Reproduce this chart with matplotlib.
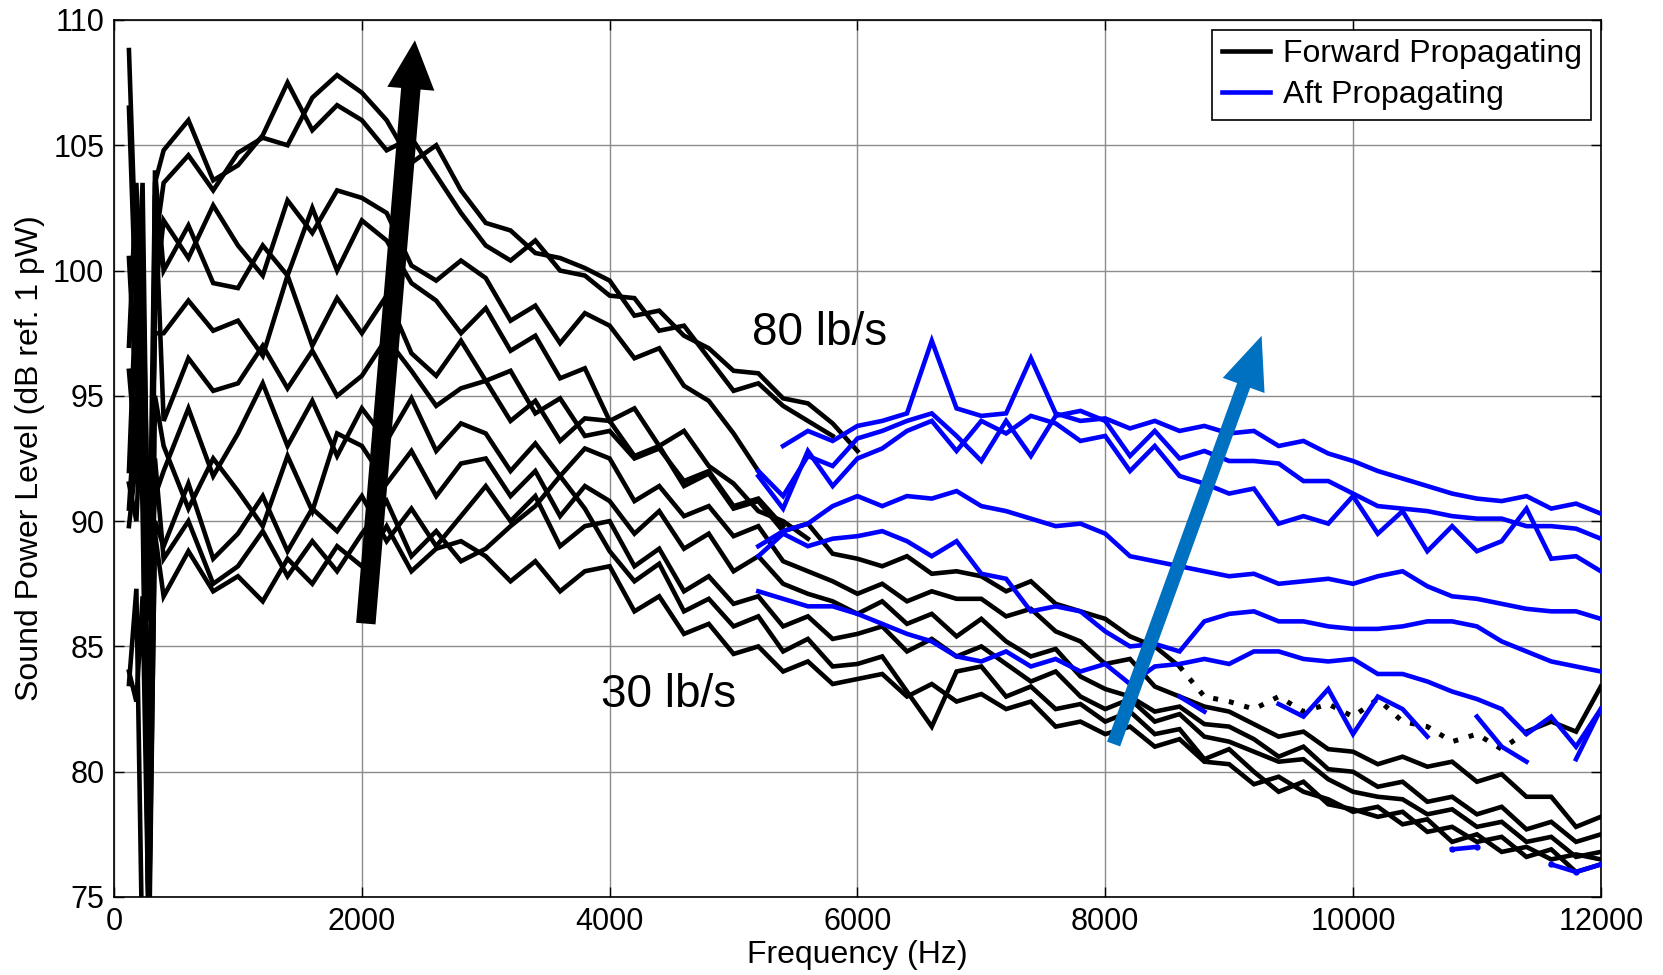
import matplotlib
matplotlib.use("Agg")
import matplotlib.pyplot as plt
from matplotlib.patches import FancyArrowPatch
import numpy as np

plt.rcParams['font.family'] = ['Liberation Sans', 'DejaVu Sans']

nan = np.nan

### DATA ###
# forward (black) curves share this grid, aft (blue) curves the second one
freq_fwd = np.array([120, 180, 230, 280, 330] + list(range(400, 12001, 200)))
freq_aft = np.arange(5200, 12001, 200)
freq_dot = np.arange(8600, 11401, 200)

fwd_80 = [108.8, 100.0, 92.0, 73.0, 101.0,
          103.5, 104.6, 103.2, 104.7, 105.3, 105.0, 106.9, 107.8, 107.1, 106.0,
          104.3, 105.0, 103.2, 101.9, 101.6, 100.7, 100.5, 100.1, 99.6, 98.2,
          98.4, 97.4, 96.9, 96.0, 95.9, 94.9, 94.7, 93.9, 92.8]
fwd_75 = [106.5, 98.0, 103.5, 86.0, 103.5,
          104.8, 106.0, 103.6, 104.2, 105.4, 107.5, 105.6, 106.6, 106.0, 104.8,
          105.3, 103.8, 102.3, 101.0, 100.4, 101.2, 100.0, 99.8, 99.0, 98.9,
          97.6, 97.8, 96.5, 95.2, 95.5, 94.6, 94.0, 93.4]
fwd_70 = [100.5, 95.0, 101.5, 77.0, 99.0,
          102.0, 100.5, 102.6, 101.0, 99.8, 102.8, 101.5, 103.2, 102.9, 102.3,
          100.2, 99.6, 100.4, 99.7, 98.0, 98.6, 97.1, 98.3, 97.8, 96.5,
          96.9, 95.4, 94.8, 93.5, 92.0]
fwd_65 = [97.0, 103.5, 96.0, 73.0, 104.0,
          100.0, 101.8, 99.5, 99.3, 101.0, 99.8, 102.5, 100.0, 102.0, 101.2,
          99.5, 98.8, 97.5, 98.5, 96.8, 97.4, 95.7, 96.1, 94.0, 94.5,
          93.0, 93.6, 92.2, 91.5, 90.4, 90.0, 89.3]
fwd_60 = [96.0, 92.5, 100.5, 88.0, 97.5,
          97.5, 98.8, 97.6, 98.0, 96.6, 99.8, 97.0, 98.9, 97.5, 99.0,
          96.7, 95.8, 97.2, 95.6, 96.0, 94.3, 94.9, 93.4, 93.6, 92.5,
          92.9, 91.6, 92.0, 90.6, 90.9, 89.8]
fwd_55 = [92.0, 99.5, 90.5, 74.0, 103.0,
          94.0, 96.5, 95.2, 95.5, 97.0, 95.3, 96.8, 95.0, 95.8, 97.3,
          96.0, 94.6, 95.3, 95.6, 94.0, 94.8, 93.2, 94.1, 94.0, 92.6,
          93.0, 91.4, 91.9, 90.5, 90.8, 89.6, 89.9, 88.7, 88.5,
          88.2, 88.6, 87.9, 88.0, 87.8, 87.2, 87.6, 86.7, 86.4, 86.1,
          85.4, 85.0, 84.2, nan, nan, nan, nan, nan, nan, nan,
          nan, nan, nan, nan, nan, nan, 81.6, 82.0, 81.6, 83.4]
fwd_55_dot = [84.2, 83.0, 82.8, 82.5, 83.0, 82.4, 82.7, 82.2, 82.9, 82.0,
              81.8, 81.2, 81.5, 80.9, 81.6]
fwd_50 = [90.5, 95.0, 93.0, 87.5, 91.0,
          92.0, 94.5, 91.8, 93.5, 95.5, 93.0, 94.8, 92.6, 94.5, 93.2,
          94.9, 92.8, 93.9, 93.5, 92.0, 93.1, 91.8, 92.9, 92.5, 90.8,
          91.4, 90.2, 90.6, 89.4, 89.8, 88.4, 88.0, 87.6, 87.1,
          87.5, 86.8, 87.2, 86.9, 86.9, 86.2, 86.5, 85.6, 85.2, 84.3,
          84.5, 83.4, 83.0, 82.6, 82.4, 81.9, 81.4, 81.6, 80.9, 80.8,
          80.3, 80.6, 80.2, 80.4, 79.6, 79.9, 79.0, 79.0, 77.8, 78.2]
fwd_45 = [89.8, 92.5, 97.0, 73.0, 95.0,
          93.0, 90.5, 92.5, 91.2, 89.8, 92.6, 90.4, 93.5, 93.0, 91.5,
          92.8, 91.0, 92.3, 92.5, 91.0, 92.0, 90.2, 91.4, 90.8, 89.5,
          90.4, 88.9, 89.5, 88.0, 88.6, 87.5, 87.1, 86.8, 86.3,
          86.8, 85.9, 86.3, 85.4, 86.1, 85.2, 84.6, 84.9, 83.8, 83.3,
          83.0, 82.4, 82.6, 81.9, 81.8, 81.3, 80.6, 81.0, 80.1, 80.0,
          79.4, 79.6, 78.8, 79.0, 78.3, 78.6, 77.7, 78.0, 77.2, 77.5]
fwd_40 = [83.5, 87.3, 72.0, 72.0, 90.0,
          89.0, 91.5, 88.5, 89.5, 91.0, 88.8, 90.5, 89.6, 91.0, 89.2,
          90.5, 89.0, 90.2, 91.4, 90.0, 91.0, 89.0, 89.8, 90.0, 88.2,
          88.9, 87.2, 87.8, 86.7, 87.0, 85.8, 86.2, 85.3, 85.5,
          85.8, 84.8, 85.3, 84.6, 85.0, 84.3, 83.6, 84.0, 83.0, 82.5,
          82.9, 82.0, 82.3, 81.4, 81.2, 80.8, 80.4, 80.5, 79.7, 79.2,
          79.0, 78.9, 78.3, 78.5, 77.8, 78.0, 77.2, 77.4, 76.6, 76.8]
fwd_35 = [91.5, 90.0, 95.5, 78.0, 92.5,
          88.5, 90.0, 87.5, 88.2, 89.6, 87.8, 89.2, 88.0, 89.5, 90.8,
          88.6, 89.6, 88.4, 88.9, 89.8, 90.6, 91.8, 90.5, 88.8, 87.6,
          88.3, 86.4, 86.9, 85.8, 86.2, 84.8, 85.3, 84.2, 84.3,
          84.6, 83.2, 81.8, 84.0, 84.2, 83.0, 83.4, 82.5, 82.7, 82.0,
          82.4, 81.5, 81.7, 80.5, 80.9, 80.0, 79.2, 79.6, 78.7, 78.5,
          78.2, 78.4, 77.6, 77.8, 77.2, 77.4, 76.6, 76.9, 76.0, 76.3]
fwd_30 = [84.0, 82.8, 87.0, 73.5, 89.5,
          87.0, 88.8, 87.2, 87.8, 86.8, 88.5, 87.5, 89.0, 88.2, 89.8,
          88.0, 88.9, 89.2, 88.6, 87.6, 88.4, 87.2, 88.0, 88.2, 86.4,
          87.0, 85.5, 85.9, 84.7, 85.0, 84.0, 84.4, 83.5, 83.7,
          83.9, 83.0, 83.5, 82.8, 83.1, 82.5, 82.8, 81.8, 82.0, 81.5,
          81.8, 81.0, 81.3, 80.4, 80.3, 79.5, 79.8, 79.2, 78.9, 78.4,
          78.6, 77.9, 78.1, 77.2, 77.5, 76.8, 77.0, 76.5, 76.7, 76.5]

aft_1 = [nan, 93.0, 93.6, 93.2, 93.8, 94.0, 94.3, 97.2, 94.5, 94.2,
         94.3, 96.5, 94.3, 94.0, 94.1, 93.7, 94.0, 93.6, 93.8, 93.5,
         93.6, 93.0, 93.2, 92.7, 92.4, 92.0, 91.7, 91.4, 91.1, 90.9,
         90.8, 91.0, 90.5, 90.7, 90.3]
aft_2 = [92.0, 91.0, 92.6, 92.2, 93.3, 93.6, 94.0, 94.3, 93.4, 92.4,
         94.0, 92.6, 94.2, 94.4, 94.0, 92.6, 93.6, 92.5, 92.8, 92.4,
         92.4, 92.3, 91.6, 91.6, 91.1, 90.6, 90.5, 90.4, 90.2, 90.1,
         90.1, 89.8, 89.8, 89.7, 89.3]
aft_3 = [91.8, 90.5, 92.8, 91.4, 92.5, 92.9, 93.6, 94.0, 92.8, 94.0,
         93.5, 94.2, 93.9, 93.2, 93.4, 92.0, 93.0, 91.8, 91.5, 91.1,
         91.3, 89.9, 90.2, 89.9, 91.0, 89.5, 90.4, 88.8, 89.8, 88.8,
         89.2, 90.5, 88.5, 88.6, 88.0]
aft_4 = [89.0, 89.6, 89.9, 90.6, 91.0, 90.6, 91.0, 90.9, 91.2, 90.6,
         90.4, 90.1, 89.8, 89.9, 89.5, 88.6, 88.4, 88.2, 88.0, 87.8,
         87.9, 87.5, 87.6, 87.7, 87.5, 87.8, 88.0, 87.4, 87.0, 86.9,
         86.7, 86.5, 86.4, 86.4, 86.1]
aft_5 = [88.6, 89.5, 89.0, 89.3, 89.4, 89.6, 89.2, 88.6, 89.2, 87.9,
         87.7, 86.4, 86.6, 86.4, 85.6, 85.0, 85.1, 84.8, 86.0, 86.3,
         86.4, 86.0, 86.0, 85.8, 85.7, 85.7, 85.8, 86.0, 86.0, 85.8,
         85.2, 84.8, 84.4, 84.2, 84.0]
aft_6 = [87.2, 86.9, 86.6, 86.6, 86.3, 85.9, 85.5, 85.2, 84.6, 84.4,
         84.8, 84.2, 84.5, 84.0, 84.3, 83.5, 84.2, 84.3, 84.5, 84.3,
         84.8, 84.8, 84.5, 84.4, 84.5, 83.9, 83.9, 83.6, 83.2, 82.9,
         82.5, 81.5, 82.2, 81.0, 82.5]
aft_7 = [nan, nan, nan, nan, nan, nan, nan, nan, nan, nan,
         nan, nan, nan, nan, nan, nan, nan, 83.0, 82.4, nan,
         nan, 82.7, 82.2, 83.3, 81.5, 83.0, 82.5, 81.4, nan, 82.2,
         81.0, 80.4, nan, 80.5, 82.5]
aft_8 = [nan, nan, nan, nan, nan, nan, nan, nan, nan, nan,
         nan, nan, nan, nan, nan, nan, nan, nan, nan, nan,
         nan, nan, nan, nan, nan, nan, nan, nan, 76.9, 77.0,
         nan, nan, 76.3, 76.0, 76.3]

fwd_curves = [fwd_80, fwd_75, fwd_70, fwd_65, fwd_60, fwd_55,
              fwd_50, fwd_45, fwd_40, fwd_35, fwd_30]
aft_curves = [aft_1, aft_2, aft_3, aft_4, aft_5, aft_6, aft_7]
#############

fig = plt.figure(figsize=(16.63, 9.75), dpi=100)
ax = fig.add_axes([0.0686, 0.08, 0.894, 0.8995])

lw = 3.3
h_fwd = None
for vals in fwd_curves:
    line, = ax.plot(freq_fwd[:len(vals)], vals, '-', color='k', lw=lw,
                    solid_joinstyle='miter', zorder=3)
    if h_fwd is None:
        h_fwd = line
ax.plot(freq_dot, fwd_55_dot, color='k', lw=3.6, ls=(0, (1, 2.2)), zorder=3)

h_aft = None
for vals in aft_curves:
    line, = ax.plot(freq_aft, vals, '-', color='#0000ff', lw=lw,
                    solid_joinstyle='miter', zorder=4)
    if h_aft is None:
        h_aft = line
ax.plot(freq_aft, aft_8, color='#0000ff', lw=lw, marker='.', ms=7, zorder=4)

# trend arrows
black_arrow = FancyArrowPatch((2030, 85.8), (2430, 109.3),
                              arrowstyle='simple,head_length=3.5,head_width=3.4,tail_width=1.4',
                              mutation_scale=10, color='k', lw=0, zorder=6)
blue_arrow = FancyArrowPatch((8060, 81.0), (9270, 97.5),
                             arrowstyle='simple,head_length=3.8,head_width=3.2,tail_width=1.0',
                             mutation_scale=10, color='#0070c0', lw=0, zorder=6)
ax.add_patch(black_arrow)
ax.add_patch(blue_arrow)

ax.text(5150, 97.5, '80 lb/s', fontsize=33, va='center', ha='left', zorder=7)
ax.text(3930, 83.05, '30 lb/s', fontsize=33, va='center', ha='left', zorder=7)

ax.set_xlim(0, 12000)
ax.set_ylim(75, 110)
ax.set_xticks(np.arange(0, 12001, 2000))
ax.set_yticks(np.arange(75, 111, 5))
ax.grid(True, color='#8c8c8c', lw=1.0, zorder=0)
ax.set_axisbelow(True)
ax.tick_params(direction='in', length=7, width=1, top=True, right=True,
               labelsize=22, pad=7)
for sp in ax.spines.values():
    sp.set_linewidth(1.2)

ax.set_xlabel('Frequency (Hz)', fontsize=23, labelpad=2)
ax.set_ylabel('Sound Power Level (dB ref. 1 pW)', fontsize=23, labelpad=6)

leg = ax.legend([h_fwd, h_aft], ['Forward Propagating', 'Aft Propagating'],
                loc='upper right', fontsize=23, fancybox=False, framealpha=1,
                edgecolor='k', borderaxespad=0.3, handlelength=1.5,
                handletextpad=0.4, borderpad=0.3, labelspacing=0.35)
leg.get_frame().set_linewidth(1.2)
leg.set_zorder(8)

fig.savefig('out.png', dpi=100)
